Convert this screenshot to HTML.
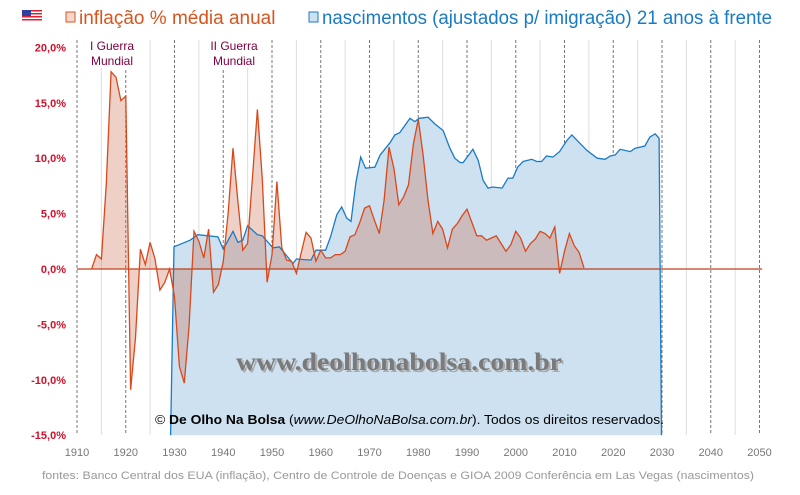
<!DOCTYPE html>
<html><head><meta charset="utf-8"><style>
body{margin:0;background:#fff;width:800px;height:490px;overflow:hidden;font-family:"Liberation Sans",sans-serif}
</style></head><body>
<svg id="s" width="800" height="490" xmlns="http://www.w3.org/2000/svg" font-family="Liberation Sans, sans-serif">
<rect width="800" height="490" fill="#fff"/>
<g id="grid"></g>
<path id="blue" fill="#cde1f1" stroke="none"/>
<path id="inf" fill="rgba(200,100,70,0.3)" stroke="none"/>
<line x1="77" x2="762" y1="269" y2="269" stroke="#c0401a" stroke-width="1.3"/>
<path id="blueL" fill="none" stroke="#1a7bc4" stroke-width="1.3"/>
<path id="infL" fill="none" stroke="#d9481a" stroke-width="1.3"/>
<g id="lab" font-size="11" font-weight="bold" fill="#d0102a" text-anchor="end"></g>
<g id="xlab" font-size="11" fill="#777" text-anchor="middle"></g>
<g>
<rect x="22" y="10" width="20" height="11" fill="#fff"/>
<g fill="#e02030"><rect x="22" y="10" width="20" height="1.5"/><rect x="22" y="13" width="20" height="1.5"/><rect x="22" y="16" width="20" height="1.5"/><rect x="22" y="19" width="20" height="1.5"/></g>
<rect x="22" y="10" width="9" height="6" fill="#3040a0"/>
<rect x="66" y="12" width="9" height="10" fill="#f3d6cc" stroke="#d9541e" stroke-width="1"/>
<text x="79" y="24" font-size="19" fill="#d9541e">inflação % média anual</text>
<rect x="309" y="12" width="9" height="10" fill="#cde1f1" stroke="#1a7bc4" stroke-width="1"/>
<text x="322" y="24" font-size="19" fill="#1a7bc4" textLength="450" lengthAdjust="spacingAndGlyphs">nascimentos (ajustados p/ imigração) 21 anos à frente</text>
</g>
<rect x="86" y="38" width="52" height="30" fill="#fff"/>
<rect x="207" y="38" width="55" height="30" fill="#fff"/>
<g font-size="12" fill="#800040" text-anchor="middle">
<text x="112" y="50">I Guerra</text><text x="112" y="65">Mundial</text>
<text x="234" y="50">II Guerra</text><text x="234" y="65">Mundial</text>
</g>
<text x="401" y="372" font-family="Liberation Serif, serif" font-weight="bold" font-size="25" fill="#aaa" text-anchor="middle" textLength="326" lengthAdjust="spacingAndGlyphs">www.deolhonabolsa.com.br</text>
<text x="399" y="370" font-family="Liberation Serif, serif" font-weight="bold" font-size="25" fill="#7a7a7a" text-anchor="middle" textLength="326" lengthAdjust="spacingAndGlyphs">www.deolhonabolsa.com.br</text>
<text x="155" y="424" font-size="13" fill="#000" textLength="509" lengthAdjust="spacingAndGlyphs">© <tspan font-weight="bold">De Olho Na Bolsa</tspan> (<tspan font-style="italic">www.DeOlhoNaBolsa.com.br</tspan>). Todos os direitos reservados.</text>
<text x="42" y="479" font-size="11" fill="#999" textLength="712" lengthAdjust="spacingAndGlyphs">fontes: Banco Central dos EUA (inflação), Centro de Controle de Doenças e GIOA 2009 Conferência em Las Vegas (nascimentos)</text>
</svg>
<script>
var X=function(y){return 77+4.875*(y-1910)},Y=function(v){return 269-v*11.08};
var g=document.getElementById('grid'),h='';
for(var yr=1910;yr<=2050;yr+=5){var x=X(yr);
 if(yr%10==0)h+='<line x1="'+x+'" x2="'+x+'" y1="40" y2="435" stroke="#777" stroke-dasharray="3,2" stroke-width="1"/>';
 else h+='<line x1="'+x+'" x2="'+x+'" y1="40" y2="435" stroke="#ddd" stroke-width="1"/>';}
g.innerHTML=h;
var l='';for(var v=20;v>=-15;v-=5){l+='<text x="66" y="'+(Y(v)+4)+'">'+v.toFixed(1).replace('.',',')+'%</text>';}
document.getElementById('lab').innerHTML=l;
var xl='';for(var yr=1910;yr<=2050;yr+=10)xl+='<text x="'+X(yr)+'" y="456">'+yr+'</text>';
document.getElementById('xlab').innerHTML=xl;
var inf=[0,1.3,0.9,7.7,17.8,17.3,15.2,15.6,-10.9,-6.2,1.8,0.4,2.4,0.9,-1.9,-1.2,0,-2.5,-8.8,-10.3,-5.1,3.4,2.5,1,3.6,-2.1,-1.4,0.7,5,10.9,6.1,1.7,2.3,8.3,14.4,8.1,-1.2,1.3,7.9,1.9,0.8,0.7,-0.4,1.5,3.3,2.8,0.7,1.7,1.0,1.0,1.3,1.3,1.6,2.9,3.1,4.2,5.5,5.7,4.4,3.2,6.2,11.0,9.1,5.8,6.5,7.6,11.3,13.5,10.3,6.2,3.2,4.3,3.6,1.9,3.6,4.1,4.8,5.4,4.2,3.0,3.0,2.6,2.8,3.0,2.3,1.6,2.2,3.4,2.8,1.6,2.3,2.7,3.4,3.2,2.8,3.8,-0.4,1.6,3.2,2.1,1.5,0.1];
var p='';inf.forEach(function(v,i){p+=(i?'L':'M')+X(1913+i).toFixed(1)+','+Y(v).toFixed(1)});
document.getElementById('infL').setAttribute('d',p);
document.getElementById('inf').setAttribute('d',p+'L'+X(2014).toFixed(1)+','+Y(0)+'L'+X(1913)+','+Y(0)+'Z');
var b=[[1929.2,-15],[1929.9,2.0],[1933.2,2.6],[1934.8,3.1],[1938.9,2.9],[1940,1.8],[1942,3.4],[1943,2.4],[1944,2.6],[1945,3.9],[1947,3.1],[1948,3.0],[1950.2,1.9],[1951.5,2.0],[1954.3,0.5],[1955,0.9],[1958,0.8],[1959,1.7],[1961,1.7],[1962,2.9],[1963.3,4.9],[1964.3,5.6],[1965.3,4.6],[1966.2,4.3],[1967.2,7.8],[1968.2,10.1],[1969.2,9.1],[1971.1,9.2],[1972.2,10.3],[1974.2,11.4],[1975.2,12.1],[1976.2,12.3],[1978.3,13.6],[1979.3,13.3],[1980.2,13.6],[1982,13.7],[1983.4,13.1],[1985.1,12.5],[1986.5,10.9],[1987.5,10],[1988.6,9.6],[1989.2,9.6],[1991.2,10.8],[1992.3,9.8],[1993.3,8.0],[1994.3,7.3],[1995.3,7.4],[1997.2,7.3],[1998.4,8.2],[1999.4,8.2],[2000.4,9.2],[2001.5,9.7],[2003.3,9.9],[2004.3,9.7],[2005.3,9.7],[2006.3,10.2],[2007.6,10.1],[2009,10.6],[2010.5,11.6],[2011.5,12.1],[2014.6,10.7],[2016.7,10.0],[2018.3,9.9],[2019.4,10.2],[2020.4,10.3],[2021.4,10.8],[2023.5,10.6],[2024.5,10.9],[2026.5,11.1],[2027.5,11.9],[2028.6,12.2],[2029.4,11.8],[2029.9,-15]];
var q='';b.forEach(function(d,i){q+=(i?'L':'M')+X(d[0]).toFixed(1)+','+Y(d[1]).toFixed(1)});
document.getElementById('blueL').setAttribute('d',q);
document.getElementById('blue').setAttribute('d',q+'Z');
</script>
</body></html>
